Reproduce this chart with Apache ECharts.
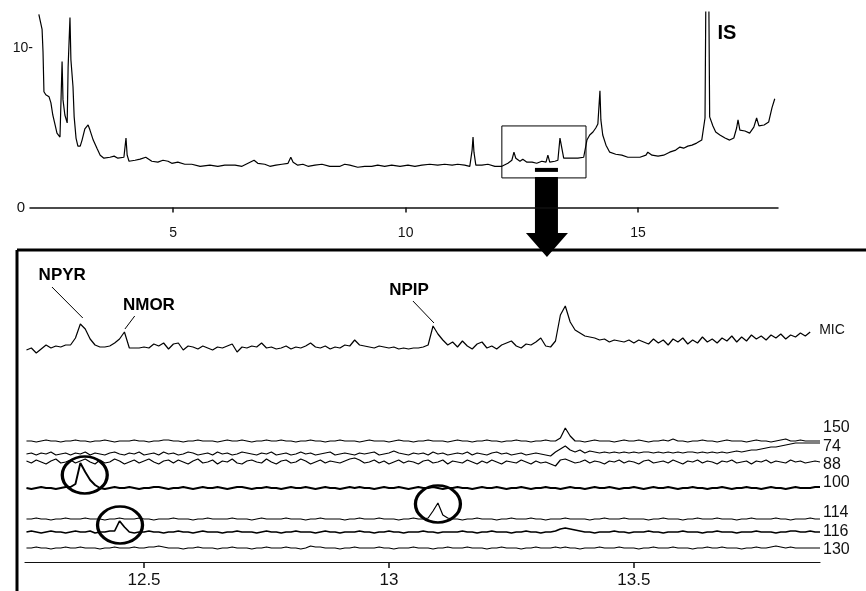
<!DOCTYPE html>
<html>
<head>
<meta charset="utf-8">
<title>TIC / MIC chromatogram</title>
<script src="https://cdn.jsdelivr.net/npm/echarts@6/dist/echarts.min.js"></script>
<style>
  html, body { margin: 0; padding: 0; background: #fff; }
  #chart { width: 866px; height: 591px; }
</style>
</head>
<body>
<div id="chart"></div>
<script>
// ---- overview trace (time in min, abundance) ----
const ticTimes = [2.11,2.18,2.20,2.22,2.26,2.33,2.37,2.41,2.46,2.50,2.565,2.59,2.61,2.63,2.67,2.72,2.74,2.78,2.80,2.82,
  2.845,2.87,2.91,2.95,3.00,3.04,3.10,3.17,3.21,3.28,3.36,3.43,3.51,3.64,3.73,3.81,3.94,3.985,4.01,4.05,
  4.18,4.29,4.41,4.54,4.67,4.78,4.89,4.97,5.10,5.25,5.40,5.58,5.79,5.96,6.11,6.33,6.48,6.61,6.74,6.82,
  6.97,7.08,7.21,7.34,7.47,7.53,7.58,7.68,7.79,7.90,8.05,8.20,8.37,8.59,8.69,8.80,8.97,9.12,9.27,9.40,
  9.55,9.70,9.88,10.05,10.20,10.35,10.52,10.69,10.84,11.00,11.12,11.27,11.38,11.43,11.45,11.47,11.51,11.64,11.77,11.92,
  12.07,12.20,12.285,12.33,12.37,12.41,12.46,12.52,12.61,12.72,12.82,12.93,13.02,13.06,13.10,13.21,13.275,13.32,13.36,13.40,
  13.53,13.705,13.83,13.90,13.96,14.03,14.09,14.135,14.18,14.20,14.24,14.31,14.39,14.52,14.65,14.78,14.91,15.04,15.17,15.21,
  15.30,15.43,15.55,15.68,15.81,15.90,15.98,16.07,16.16,16.26,16.37,16.44,16.46,16.52,16.54,16.61,16.67,16.76,16.87,16.97,
  17.06,17.12,17.15,17.19,17.30,17.40,17.49,17.55,17.60,17.71,17.81,17.88,17.94];
const ticValues = [12.15,11.2,9.8,7.28,7.09,6.96,6.58,5.82,5.19,4.68,4.43,4.37,9.18,6.77,5.82,5.32,8.86,11.96,9.3,9.18,
  7.6,5.7,4.37,3.86,3.86,4.24,4.94,5.19,4.87,4.24,3.73,3.29,3.10,3.16,3.23,3.10,3.16,4.37,3.29,2.91,
  2.97,3.04,3.16,2.91,2.85,2.97,2.91,2.78,2.85,2.72,2.72,2.59,2.66,2.59,2.66,2.66,2.59,2.78,2.97,2.78,
  2.72,2.59,2.66,2.72,2.78,3.16,2.85,2.66,2.72,2.59,2.66,2.72,2.59,2.59,2.72,2.66,2.53,2.59,2.59,2.66,
  2.59,2.66,2.59,2.66,2.59,2.66,2.72,2.66,2.72,2.66,2.72,2.66,2.59,3.61,4.43,3.48,2.66,2.66,2.72,2.59,
  2.59,2.78,2.97,3.48,3.10,3.16,2.91,3.04,2.85,2.85,2.78,2.91,2.85,3.29,2.85,2.91,2.97,4.37,3.73,3.10,
  3.10,3.10,3.16,4.24,4.56,4.75,5.00,5.25,7.34,5.51,4.56,3.92,3.48,3.35,3.29,3.16,3.16,3.16,3.29,3.48,
  3.29,3.23,3.29,3.48,3.61,3.80,3.73,3.86,3.92,4.05,4.24,5.63,14,14,5.70,5.13,4.75,4.56,4.37,4.24,
  4.37,5.00,5.51,4.87,4.81,4.68,5.06,5.63,5.13,5.19,5.38,6.27,6.84];

// ---- zoomed window: one sample every 0.01 min from 12.26 ----
const zoomStart = 12.26;
const zoomStep = 0.01;
const micValues = [212,214,209,213,217,214,216,215,217,217,
  224,238,233,223,217,215,215,216,219,223,
  230,214,214,214,215,214,218,216,219,213,
  218,219,212,216,215,213,216,214,212,215,
  214,216,218,210,215,214,216,215,219,214,
  215,213,214,216,213,215,214,216,219,215,
  214,216,213,215,214,217,216,222,217,216,
  215,214,216,215,214,215,213,214,213,214,
  214,215,217,236,228,222,217,220,215,221,
  216,213,218,220,214,216,213,217,219,221,
  216,214,218,217,220,224,216,215,221,247,
  256,240,232,229,226,225,224,222,223,220,
  222,221,220,222,219,222,220,218,223,219,
  222,217,223,220,224,218,222,219,225,220,
  223,219,224,221,226,220,225,221,227,223,
  226,222,227,224,228,223,227,225,229,226,
  230];

// single-ion traces: deviation from each trace's own baseline
const ionNames = ['150', '74', '88', '100', '114', '116', '130'];
const ionBaselines = [121, 108, 100, 74, 43, 30, 14];
const ion150 = [0,0,-1,0,1,0,0,-1,0,0, 1,0,0,-1,0,0,1,0,-1,0, 0,0,1,0,0,-1,0,0,1,1, 0,0,-1,0,0,1,0,0,0,-1,
  0,1,0,0,1,0,-1,0,0,1, 0,0,1,0,0,-1,0,0,1,0, 0,-1,0,0,1,0,0,0,-1,0, 1,0,0,0,-1,0,1,0,0,-1,
  0,0,1,0,0,0,-1,0,1,0, 0,-1,0,0,1,0,0,-1,0,0, 1,0,0,-1,0,0,1,0,0,3, 13,5,0,0,-1,0,1,0,0,0,
  -1,0,1,0,0,1,0,-1,0,0, 1,0,2,0,0,-1,0,0,1,0, 0,-1,0,1,0,0,0,-1,0,1, 0,0,-1,0,1,2,0,0,1,0, 0,0,0];
const ion74 = [0,1,-1,1,0,2,-1,0,1,-1, 1,0,2,-1,1,0,-1,1,2,0, -1,1,0,2,-1,0,1,-1,2,0, 1,-1,0,2,1,-1,0,1,-1,2,
  0,1,-1,0,2,1,0,-1,1,0, 2,-1,0,1,-1,0,2,0,1,-1, 0,1,2,-1,0,1,0,-1,1,0, 1,2,-1,0,1,3,1,0,-1,1,
  0,1,-1,2,0,1,-1,0,1,0, 2,-1,1,0,-1,1,2,0,1,-1, 0,1,-1,0,1,0,-1,-2,2,5, 8,4,2,4,1,3,2,1,2,1,
  2,1,2,1,2,1,2,2,1,2, 1,2,1,2,1,2,2,1,2,1, 2,1,2,1,2,3,2,3,4,4, 5,6,7,7,8,9,10,11,11,11, 11,11,11];
const ion88 = [1,-1,2,0,-2,1,3,-1,0,2, -1,1,3,0,-2,2,-1,0,3,1, -2,0,2,-1,1,3,0,-2,1,2, -1,2,0,-2,1,3,-1,0,2,-2,
  1,0,3,-1,-2,1,2,0,-1,3, 0,-2,1,2,-1,0,3,1,-2,0, 2,-1,1,0,-1,1,3,4,2,-1, 0,2,-1,1,-2,0,2,-1,1,0,
  -2,1,2,-1,0,2,-2,1,0,-1, 2,0,-2,1,-1,2,0,-2,1,0, -1,2,0,-2,1,-1,0,-2,-4,2, 3,1,-1,0,2,-1,1,0,-2,1,
  0,2,-1,1,0,-2,1,2,-1,0, 1,-1,2,0,-2,1,0,2,-1,1, 0,-2,1,0,2,-1,0,1,-2,1, 0,2,-1,1,0,-1,2,0,1,-1, 0,1,0];
const ion100 = [0,-1,0,1,0,0,-1,0,1,1, 4,25,16,8,3,0,-1,0,1,0, 0,1,0,-1,0,0,1,1,0,-1, 0,0,1,0,-1,0,1,0,0,1,
  0,-1,0,1,1,0,-1,0,0,1, 0,0,-1,0,1,0,0,1,0,-1, 0,1,0,0,-1,0,1,0,1,0, 0,-1,0,1,0,0,1,0,-1,0,
  1,0,0,1,0,-1,0,0,1,0, 0,-1,0,1,0,0,1,0,-1,0, 0,1,0,-1,0,0,1,0,0,-1, 0,1,0,0,-1,0,1,0,0,1,
  0,-1,0,0,1,0,-1,0,1,0, 0,1,0,-1,0,0,1,0,0,-1, 0,0,1,0,-1,0,0,1,0,0, -1,0,1,0,0,-1,0,1,0,0, 0,1,1];
const ion114 = [0,0,1,0,0,-1,0,0,1,0, 0,0,1,0,0,0,-1,0,0,1, 0,0,0,1,0,0,-1,0,0,0, 1,0,0,0,-1,0,0,1,0,0,
  0,0,1,0,0,0,-1,0,1,0, 0,0,0,1,0,0,0,-1,0,0, 1,0,0,0,0,-1,0,0,1,0, 0,0,1,0,0,0,-1,0,0,1,
  0,0,1,8,16,4,1,0,0,-1, 0,0,1,0,0,0,-1,0,0,1, 0,0,0,1,0,0,-1,0,0,0, 1,0,0,0,0,-1,0,0,1,0,
  0,0,1,0,0,0,0,-1,0,0, 1,0,0,0,-1,0,0,1,0,0, 0,1,0,0,0,-1,0,0,1,0, 0,0,0,1,0,0,-1,0,0,0, 1,0,0];
const ion116 = [0,1,0,-1,0,1,0,0,-1,0, 1,0,0,1,-1,0,0,1,1,11, 5,0,-1,0,0,1,0,0,-1,0, 0,1,0,0,-1,0,1,0,0,0,
  -1,0,0,1,0,0,0,-1,0,1, 0,0,-1,0,0,1,0,0,0,-1, 0,1,0,0,-1,0,0,0,1,0, 0,-1,0,0,1,0,0,-1,0,0,
  0,1,0,0,-1,0,0,0,0,1, 0,0,-1,0,0,1,0,0,0,-1, 0,0,1,0,0,-1,0,0,1,3, 4,3,2,1,0,0,-1,0,0,0,
  1,0,0,-1,0,0,0,1,0,0, -1,0,0,0,1,0,0,0,-1,0, 0,1,0,0,0,-1,0,0,0,1, 0,0,0,-1,0,0,1,1,0,0, 1,0,0];
const ion130 = [0,0,1,0,0,-1,0,0,1,0, 0,1,0,0,0,-1,0,0,1,0, 0,0,1,0,0,1,1,2,1,0, 0,0,-1,0,0,1,0,0,0,-1,
  0,0,1,0,0,0,-1,0,0,1, 0,0,0,1,0,0,-1,0,2,1, 1,0,0,0,-1,0,0,1,0,0, 0,0,1,0,0,-1,0,0,0,1,
  0,0,0,-1,0,0,1,0,0,0, 1,0,0,0,-1,0,0,1,0,0, 0,-1,0,0,1,0,0,0,1,0, 1,0,0,-1,0,0,0,1,0,0,
  0,1,0,0,0,-1,0,0,1,0, 0,0,1,0,0,0,-1,0,0,1, 0,0,1,0,0,0,-1,0,0,1, 0,0,1,2,1,0,1,0,0,0, 0,0,0];
const ionTraces = [ion150, ion74, ion88, ion100, ion114, ion116, ion130];

// circled peaks (time, level)
const circledPeaks = [[12.379, 87], [12.451, 37], [13.100, 58]];

// ---- styling ----
const FONT = '"Liberation Sans", Arial, sans-serif';
const ionLineWidths = [1.2, 1.2, 1.2, 1.9, 1.2, 1.7, 1.2];
const ionLabelShift = [-13, 4, 3, -4, -6, 0, 2];

const sampleTime = i => +(zoomStart + i * zoomStep).toFixed(2);

const chart = echarts.init(document.getElementById('chart'), null, { renderer: 'canvas' });

const ionSeries = ionTraces.map((dev, k) => ({
  name: ionNames[k],
  type: 'line',
  xAxisIndex: 1,
  yAxisIndex: 1,
  showSymbol: false,
  symbol: 'none',
  lineStyle: { color: '#000', width: ionLineWidths[k] },
  data: dev.map((d, i) => [sampleTime(i), ionBaselines[k] + d]),
  endLabel: {
    show: true,
    formatter: ionNames[k],
    distance: 3,
    offset: [0, ionLabelShift[k]],
    color: '#111',
    fontSize: 16,
    fontFamily: FONT
  },
  z: 3
}));

const option = {
  animation: false,
  backgroundColor: '#fff',
  grid: [
    { left: 30, right: 88, top: 12, height: 205 },
    { left: 25, right: 46, top: 252, height: 310 }
  ],
  xAxis: [
    {
      gridIndex: 0, type: 'value', min: 1.92, max: 18.01,
      splitLine: { show: false },
      axisLine: { lineStyle: { color: '#111', width: 1.5 } },
      axisTick: { customValues: [5, 10, 15], length: 5, lineStyle: { color: '#111', width: 1.5 } },
      axisLabel: { customValues: [5, 10, 15], color: '#111', fontSize: 14, fontFamily: FONT, margin: 9 }
    },
    {
      gridIndex: 1, type: 'value', min: 12.257, max: 13.88,
      splitLine: { show: false },
      axisLine: { lineStyle: { color: '#111', width: 1.2 } },
      axisTick: { customValues: [12.5, 13, 13.5], length: 6, lineStyle: { color: '#111', width: 1.5 } },
      axisLabel: { customValues: [12.5, 13, 13.5], color: '#111', fontSize: 17, fontFamily: FONT, margin: 10 }
    }
  ],
  yAxis: [
    {
      gridIndex: 0, type: 'value', min: -0.6, max: 12.3,
      splitLine: { show: false },
      axisLine: { show: false },
      axisTick: { show: false },
      axisLabel: {
        customValues: [0, 10],
        margin: -3,
        color: '#111',
        fontSize: 14,
        fontFamily: FONT,
        formatter: v => (v === 10 ? '10-' : '{z|0}'),
        rich: { z: { fontSize: 15, fontFamily: FONT, color: '#111', padding: [0, 8, 0, 0] } }
      }
    },
    {
      gridIndex: 1, type: 'value', min: 0, max: 310, show: false
    }
  ],
  series: [
    {
      name: 'TIC',
      type: 'line',
      xAxisIndex: 0,
      yAxisIndex: 0,
      showSymbol: false,
      symbol: 'none',
      clip: true,
      lineStyle: { color: '#000', width: 1.2 },
      data: ticTimes.map((t, i) => [t, ticValues[i]]),
      markArea: {
        silent: true,
        itemStyle: { color: 'rgba(0,0,0,0)', borderColor: '#000', borderWidth: 1 },
        data: [[{ coord: [12.07, 5.13] }, { coord: [13.88, 1.86] }]]
      },
      markPoint: {
        silent: true,
        symbol: 'circle',
        symbolSize: 1,
        itemStyle: { color: 'rgba(0,0,0,0)' },
        label: { show: true, position: 'inside', formatter: '{b}', color: '#000', fontWeight: 'bold', fontSize: 20, fontFamily: FONT },
        data: [{ name: 'IS', coord: [16.91, 10.92] }]
      }
    },
    {
      name: 'MIC',
      type: 'line',
      xAxisIndex: 1,
      yAxisIndex: 1,
      showSymbol: false,
      symbol: 'none',
      lineStyle: { color: '#000', width: 1.2 },
      data: micValues.map((v, i) => [sampleTime(i), v]),
      endLabel: { show: true, formatter: 'MIC', distance: 9, offset: [0, -2], color: '#111', fontSize: 14, fontFamily: FONT },
      markLine: {
        silent: true,
        symbol: ['none', 'none'],
        label: { show: false },
        lineStyle: { color: '#000', width: 1, type: 'solid' },
        data: [
          [{ coord: [12.312, 275] }, { coord: [12.375, 244] }],
          [{ coord: [12.481, 246] }, { coord: [12.461, 233] }],
          [{ coord: [13.049, 261] }, { coord: [13.092, 239] }]
        ]
      },
      markPoint: {
        silent: true,
        symbol: 'circle',
        symbolSize: 1,
        itemStyle: { color: 'rgba(0,0,0,0)' },
        label: { show: true, position: 'inside', formatter: '{b}', color: '#000', fontWeight: 'bold', fontSize: 17, fontFamily: FONT },
        data: [
          { name: 'NPYR', coord: [12.333, 287] },
          { name: 'NMOR', coord: [12.510, 257] },
          { name: 'NPIP', coord: [13.041, 272] }
        ]
      },
      z: 3
    },
    ...ionSeries,
    {
      name: 'circled',
      type: 'scatter',
      xAxisIndex: 1,
      yAxisIndex: 1,
      symbol: 'circle',
      symbolSize: [45, 37],
      itemStyle: { color: 'rgba(0,0,0,0)', borderColor: '#000', borderWidth: 3, opacity: 1 },
      data: circledPeaks,
      silent: true,
      z: 5
    }
  ]
};

chart.setOption(option);

// frame of the lower panel and the arrow from the marked window
const a = chart.convertToPixel({ gridIndex: 0 }, [13.04, 2.49]);
chart.setOption({
  graphic: [
    { type: 'line', shape: { x1: 17, y1: 250, x2: 17, y2: 591 }, style: { stroke: '#000', lineWidth: 3 } },
    { type: 'line', shape: { x1: 17, y1: 250, x2: 866, y2: 250 }, style: { stroke: '#000', lineWidth: 3 } },
    { type: 'rect', shape: { x: a[0] - 12, y: a[1], width: 23, height: 4 }, style: { fill: '#000' } },
    { type: 'rect', shape: { x: a[0] - 12, y: a[1] + 9, width: 23, height: 57 }, style: { fill: '#000' } },
    {
      type: 'polygon',
      shape: { points: [[a[0] - 21, a[1] + 65], [a[0] + 21, a[1] + 65], [a[0], a[1] + 89]] },
      style: { fill: '#000' }
    }
  ]
});

window.addEventListener('resize', function () {
  chart.resize();
});
</script>
</body>
</html>
